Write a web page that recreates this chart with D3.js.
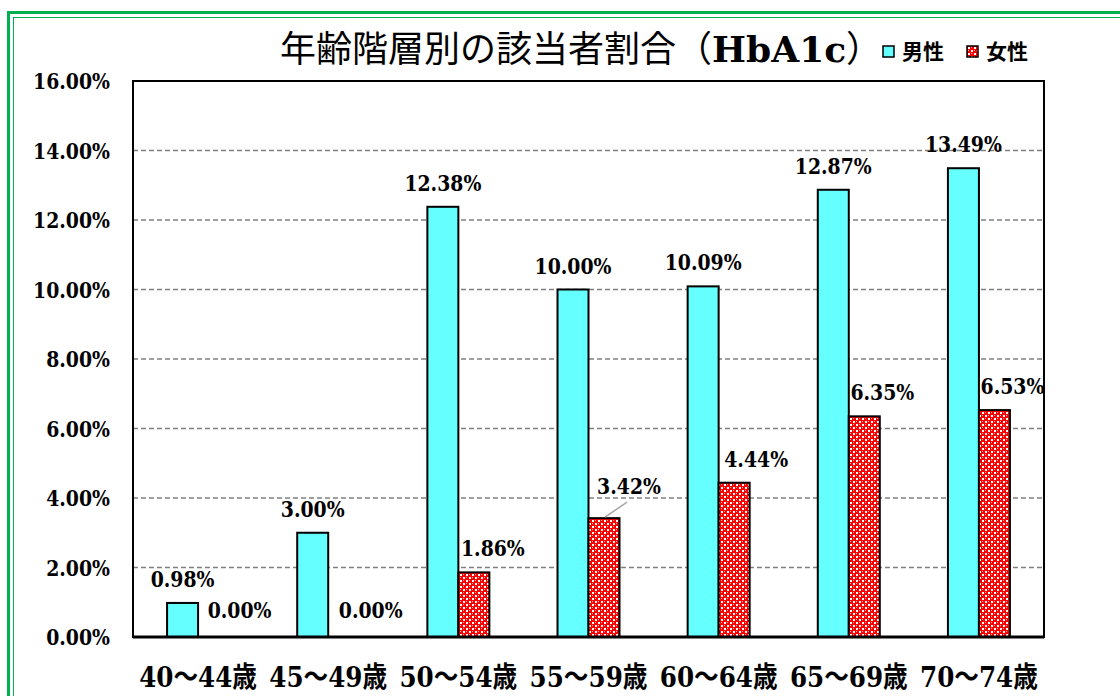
<!DOCTYPE html>
<html>
  <head>
    <meta charset="utf-8">
    <title></title>
    <style>
      body { margin: 0; background: #fff; }
      svg { display: block; }
      .num { font: bold 23px "DejaVu Serif", "Noto Sans CJK JP", serif; fill: #000; }
      .xlab { font: bold 28px "DejaVu Serif", "Noto Sans CJK JP", serif; fill: #000; }
      .grid line { stroke: #808080; stroke-width: 1.3; stroke-dasharray: 5 3; }
    </style>
    <script src="https://cdnjs.cloudflare.com/ajax/libs/d3/7.8.5/d3.min.js"></script>
  </head>
  <body>
    <div id="chart"></div>
    <script>
var categories = ["40～44歳", "45～49歳", "50～54歳", "55～59歳", "60～64歳", "65～69歳", "70～74歳"];
var male = [0.98, 3.00, 12.38, 10.00, 10.09, 12.87, 13.49];
var female = [0.00, 0.00, 1.86, 3.42, 4.44, 6.35, 6.53];
var yTicks = [0, 2, 4, 6, 8, 10, 12, 14, 16];
var seriesNames = ["男性", "女性"];
// label nudges for the female series (the source chart moved them by hand)
var femaleLabelDx = [26, 27, 19, 25, 22, 18, 18];

var W = 1120, H = 696;
var m = { left: 133, right: 1044, top: 81, bottom: 637 };

var svg = d3.select("#chart").append("svg").attr("width", W).attr("height", H);

var defs = svg.append("defs");
var pat = defs.append("pattern").attr("id", "dots")
  .attr("patternUnits", "userSpaceOnUse").attr("width", 6).attr("height", 6);
pat.append("rect").attr("width", 6).attr("height", 6).attr("fill", "#ff0000");
pat.append("rect").attr("x", 1).attr("y", 1).attr("width", 2).attr("height", 2).attr("fill", "#fff");
pat.append("rect").attr("x", 4).attr("y", 4).attr("width", 2).attr("height", 2).attr("fill", "#fff");
pat.append("rect").attr("x", 4).attr("y", 1).attr("width", 1).attr("height", 1).attr("fill", "#ffb0b0");
pat.append("rect").attr("x", 1).attr("y", 4).attr("width", 1).attr("height", 1).attr("fill", "#ffb0b0");

// narrow serif text: the source font is taller and narrower than DejaVu
function label(g, cls, x0, y0, anchor, s, sx) {
  return g.append("text").attr("class", cls).attr("text-anchor", anchor)
    .attr("transform", "translate(" + x0 + "," + y0 + ") scale(" + sx + ",1)")
    .text(s);
}

// green frame
svg.append("rect").attr("x", 8.5).attr("y", 12.5).attr("width", 1200).attr("height", 800)
  .attr("fill", "none").attr("stroke", "#00b050").attr("stroke-width", 3);
svg.append("rect").attr("x", 13.5).attr("y", 17.5).attr("width", 1200).attr("height", 800)
  .attr("fill", "none").attr("stroke", "#00b050").attr("stroke-width", 1);

var x = d3.scaleBand().domain(categories).range([m.left, m.right]).paddingInner(0).paddingOuter(0);
var bw = 31;
var y = d3.scaleLinear().domain([0, 16]).range([m.bottom, m.top]);

// grid
svg.append("g").attr("class", "grid").selectAll("line")
  .data(yTicks.filter(function(t){ return t > 0 && t < 16; })).enter()
  .append("line")
  .attr("x1", m.left).attr("x2", m.right)
  .attr("y1", function(t){ return y(t); }).attr("y2", function(t){ return y(t); });

var pct = function(v){ return v.toFixed(2) + "%"; };

// y tick labels
var gy = svg.append("g");
yTicks.forEach(function(t){ label(gy, "num", m.left - 23, y(t) + 8, "end", pct(t), 0.82); });

// x labels
var gx = svg.append("g");
categories.forEach(function(c){ label(gx, "xlab", x(c) + x.bandwidth() / 2, 687, "middle", c, 0.88); });

function bx(c, i) { return x(c) + (x.bandwidth() - 2 * bw) / 2 + i * bw; }

var gm = svg.append("g");
gm.selectAll("rect").data(male).enter().append("rect")
  .attr("x", function(d, i){ return bx(categories[i], 0); })
  .attr("y", function(d){ return y(d); })
  .attr("width", bw).attr("height", function(d){ return y(0) - y(d); })
  .attr("fill", "#66ffff").attr("stroke", "#000").attr("stroke-width", 2);

var gf = svg.append("g");
gf.selectAll("rect").data(female).enter().append("rect")
  .attr("x", function(d, i){ return bx(categories[i], 1); })
  .attr("y", function(d){ return y(d); })
  .attr("width", bw).attr("height", function(d){ return y(0) - y(d); })
  .attr("fill", "url(#dots)").attr("stroke", "#000")
  .attr("stroke-width", function(d){ return d > 0 ? 2 : 0; });

// plot frame
svg.append("rect").attr("x", m.left).attr("y", m.top)
  .attr("width", m.right - m.left).attr("height", m.bottom - m.top)
  .attr("fill", "none").attr("stroke", "#000").attr("stroke-width", 2);
svg.append("line").attr("x1", m.left).attr("x2", m.right)
  .attr("y1", m.bottom).attr("y2", m.bottom).attr("stroke", "#000").attr("stroke-width", 3);

// value labels
var gl = svg.append("g");
male.forEach(function(d, i){
  label(gl, "num", bx(categories[i], 0) + bw / 2, y(d) - 16, "middle", pct(d), 0.82);
});
female.forEach(function(d, i){
  var dy = d === 0 ? 19 : (i === 3 ? 24 : 16);
  label(gl, "num", bx(categories[i], 1) + bw / 2 + femaleLabelDx[i], y(d) - dy, "middle", pct(d), 0.82);
});

// leader line for the moved label
var li = 3, lc = bx(categories[li], 1) + bw / 2;
svg.append("line")
  .attr("x1", lc + 1).attr("y1", y(female[li]) - 1)
  .attr("x2", lc + 23).attr("y2", y(female[li]) - 16)
  .attr("stroke", "#a6a6a6").attr("stroke-width", 1.5);

// title
var title = svg.append("text").attr("x", 280).attr("y", 62)
  .style("font", "36px 'Noto Sans CJK JP', sans-serif");
title.append("tspan").text("年齢階層別の該当者割合（");
title.append("tspan").style("font", "bold 36px 'DejaVu Serif', serif").text("HbA1c");
title.append("tspan").text("）");

// legend
var legend = svg.append("g").selectAll("g").data(seriesNames).enter().append("g")
  .attr("transform", function(d, i){ return "translate(" + (883 + i * 84) + ",46)"; });
legend.append("rect").attr("width", 11).attr("height", 11)
  .attr("fill", function(d, i){ return i === 0 ? "#66ffff" : "url(#dots)"; })
  .attr("stroke", "#000").attr("stroke-width", 1.5);
legend.append("text").attr("x", 19).attr("y", 13)
  .style("font", "bold 21px 'Noto Sans CJK JP', sans-serif")
  .text(function(d){ return d; });
    </script>
  </body>
</html>
